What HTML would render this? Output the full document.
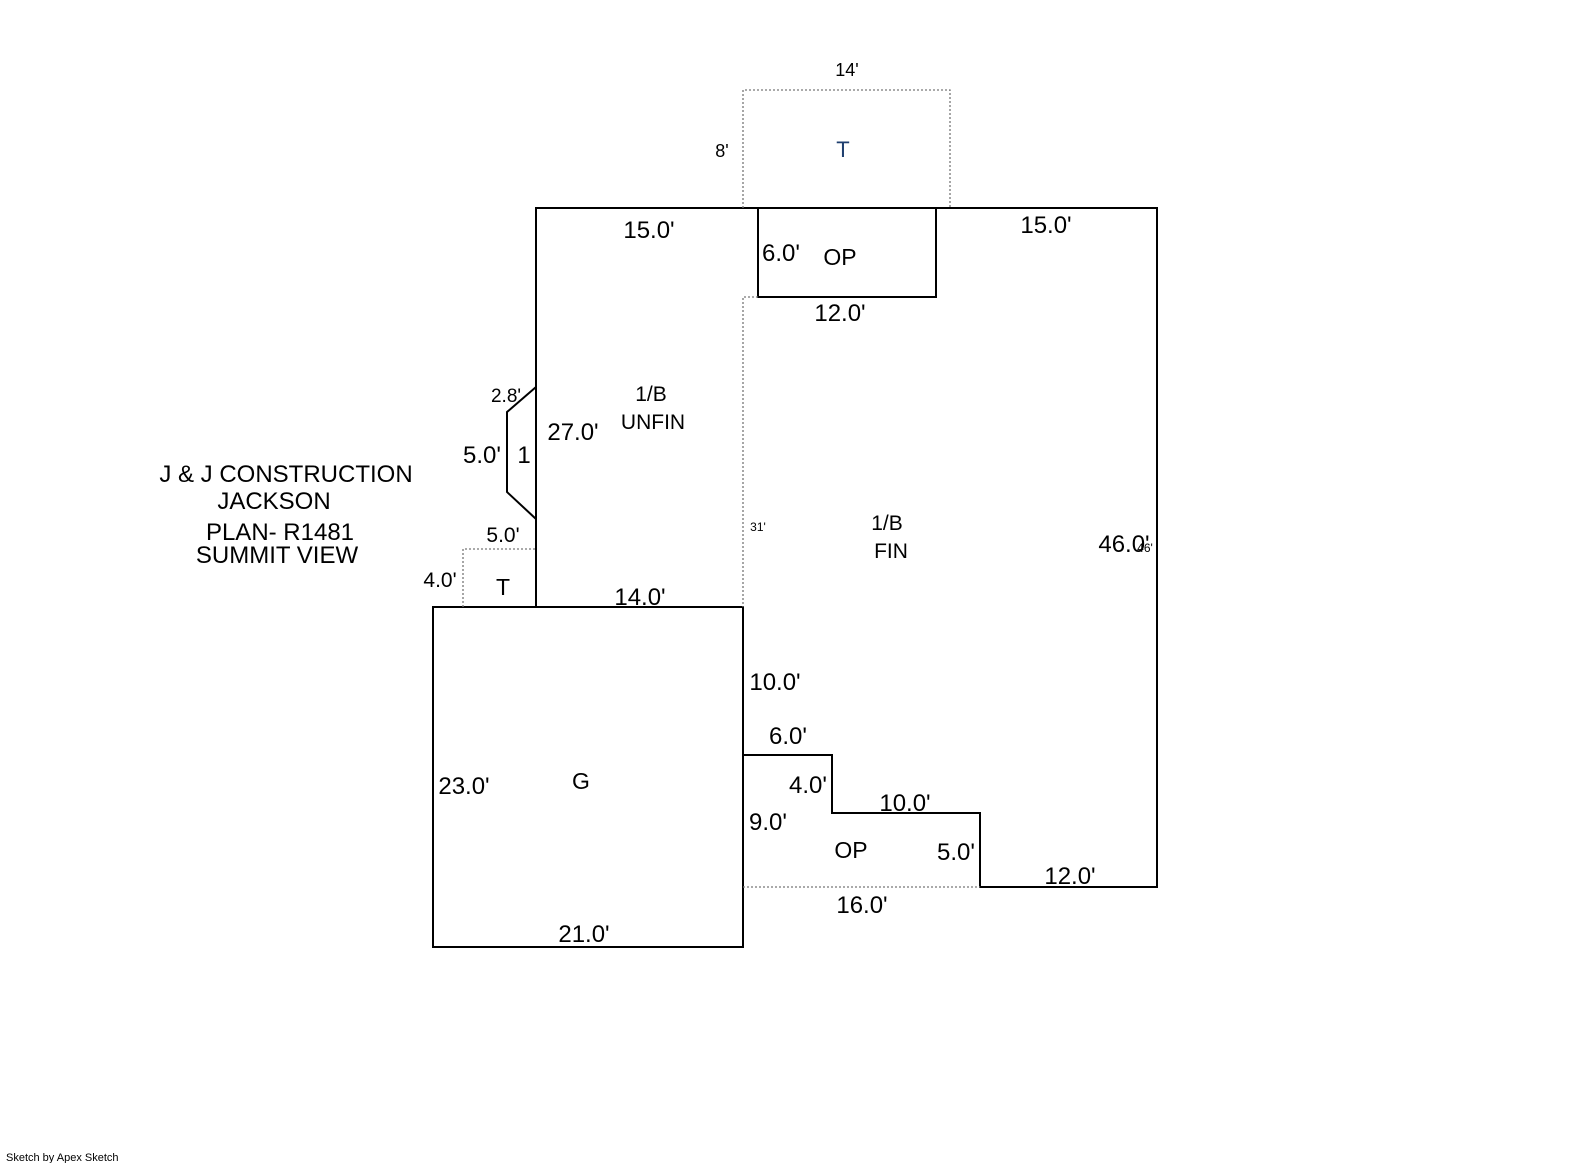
<!DOCTYPE html>
<html><head><meta charset="utf-8"><style>
html,body{margin:0;padding:0;background:#fff;}
svg text{font-family:"Liberation Sans",Arial,sans-serif;fill:#000;}
</style></head><body>
<svg width="1585" height="1163" viewBox="0 0 1585 1163" xmlns="http://www.w3.org/2000/svg">
<g fill="none" stroke="#000" stroke-width="2">
<polyline points="758,208 536,208 536,607 743,607"/>
<polyline points="936,208 1157,208 1157,887 980,887 980,813 832,813 832,755 743,755"/>
<rect x="758" y="208" width="178" height="89"/>
<rect x="433" y="607" width="310" height="340"/>
<polyline points="536,387 507,412 507,492 536,519"/>
</g>
<g fill="none" stroke="#777" stroke-width="1.3" stroke-dasharray="2,2">
<polyline points="743,208 743,90 950,90 950,208"/>
<polyline points="758,297 743,297 743,607"/>
<line x1="743" y1="887" x2="980" y2="887"/>
<polyline points="463,607 463,549 536,549"/>
</g>
<g font-size="24">
<text x="847" y="76" font-size="18" text-anchor="middle">14'</text>
<text x="722" y="157" font-size="18" text-anchor="middle">8'</text>
<text x="843" y="157" font-size="22" text-anchor="middle" style="fill:#1f3f6f">T</text>
<text x="649" y="238" text-anchor="middle">15.0'</text>
<text x="762" y="261">6.0'</text>
<text x="840" y="265" font-size="23" text-anchor="middle">OP</text>
<text x="840" y="321" text-anchor="middle">12.0'</text>
<text x="1046" y="233" text-anchor="middle">15.0'</text>
<text x="506" y="402" font-size="19" text-anchor="middle">2.8'</text>
<text x="651" y="401" font-size="21" text-anchor="middle">1/B</text>
<text x="653" y="429" font-size="21" text-anchor="middle">UNFIN</text>
<text x="573" y="440" text-anchor="middle">27.0'</text>
<text x="482" y="463" text-anchor="middle">5.0'</text>
<text x="524" y="463" text-anchor="middle">1</text>
<text x="286" y="482" text-anchor="middle">J &amp; J CONSTRUCTION</text>
<text x="274" y="509" text-anchor="middle">JACKSON</text>
<text x="280" y="540" text-anchor="middle">PLAN- R1481</text>
<text x="277" y="563" text-anchor="middle">SUMMIT VIEW</text>
<text x="503" y="542" font-size="21" text-anchor="middle">5.0'</text>
<text x="758" y="531" font-size="12" text-anchor="middle">31'</text>
<text x="887" y="530" font-size="21" text-anchor="middle">1/B</text>
<text x="891" y="558" font-size="21" text-anchor="middle">FIN</text>
<text x="1124" y="552" text-anchor="middle">46.0'</text>
<text x="1145" y="552" font-size="12" text-anchor="middle">46'</text>
<text x="440" y="587" font-size="21" text-anchor="middle">4.0'</text>
<text x="503" y="595" font-size="23" text-anchor="middle">T</text>
<text x="640" y="605" text-anchor="middle">14.0'</text>
<text x="775" y="690" text-anchor="middle">10.0'</text>
<text x="788" y="744" text-anchor="middle">6.0'</text>
<text x="581" y="789" font-size="23" text-anchor="middle">G</text>
<text x="464" y="794" text-anchor="middle">23.0'</text>
<text x="808" y="793" text-anchor="middle">4.0'</text>
<text x="905" y="811" text-anchor="middle">10.0'</text>
<text x="768" y="830" text-anchor="middle">9.0'</text>
<text x="851" y="858" font-size="23" text-anchor="middle">OP</text>
<text x="956" y="860" text-anchor="middle">5.0'</text>
<text x="1070" y="884" text-anchor="middle">12.0'</text>
<text x="862" y="913" text-anchor="middle">16.0'</text>
<text x="584" y="942" text-anchor="middle">21.0'</text>
<text x="6" y="1161" font-size="11">Sketch by Apex Sketch</text>
</g>
</svg>
</body></html>
